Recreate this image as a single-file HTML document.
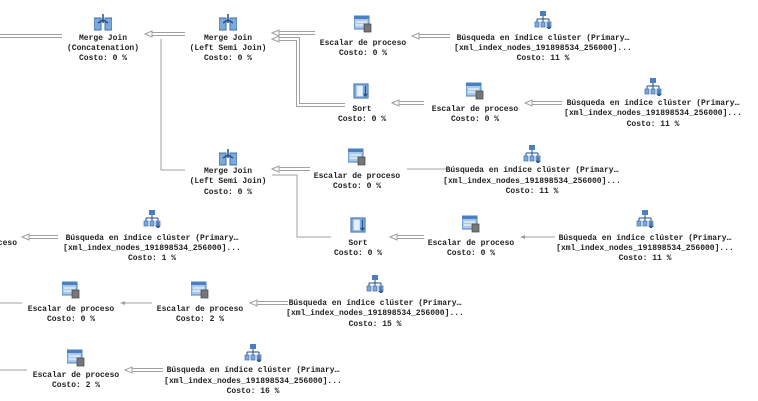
<!DOCTYPE html>
<html><head><meta charset="utf-8"><style>
html,body{margin:0;padding:0;background:#fff;width:758px;height:401px;overflow:hidden}
text{font-family:"Liberation Mono",monospace;font-size:8px;font-weight:bold;fill:#222;text-anchor:middle}
</style></head><body>
<svg width="758" height="401" viewBox="0 0 758 401" xmlns="http://www.w3.org/2000/svg">
<defs>
<symbol id="mj" viewBox="0 0 18 18">
<rect x="0" y="5" width="7" height="12" fill="#7fa9d8" stroke="#3d6fae" stroke-width="1"/>
<rect x="11" y="5" width="7" height="12" fill="#7fa9d8" stroke="#3d6fae" stroke-width="1"/>
<path d="M9 1 V10 M4 10 L9 7 L14 10" stroke="#1f4e8c" stroke-width="1.5" fill="none"/>
</symbol>
<symbol id="sc" viewBox="0 0 18 18">
<rect x="0" y="1" width="15" height="13" fill="#a9c8ea" stroke="#4a7fc1"/>
<rect x="0" y="1" width="15" height="3" fill="#4a7fc1"/>
<line x1="2" y1="7" x2="13" y2="7" stroke="#fff"/><line x1="2" y1="10" x2="13" y2="10" stroke="#fff"/>
<rect x="10" y="9" width="7" height="8" fill="#777" stroke="#444" stroke-width="0.7"/>
</symbol>
<symbol id="srt" viewBox="0 0 18 18">
<rect x="1" y="1" width="16" height="16" fill="#7fa9d8" stroke="#3d6fae"/>
<rect x="4" y="3" width="7" height="12" fill="#e6f0fb"/>
<path d="M14 3 V15 M12 12 L14 15 L16 12" stroke="#1f4e8c" stroke-width="1.2" fill="none"/>
</symbol>
<symbol id="sk" viewBox="0 0 18 18">
<rect x="6" y="0" width="6" height="5" fill="#4a7fc1"/>
<path d="M9 5 V8 M3 8 H15 M3 8 V11 M9 8 V11 M15 8 V11" stroke="#1f4e8c" fill="none"/>
<rect x="1" y="11" width="4" height="5" fill="#7fa9d8" stroke="#3d6fae" stroke-width="0.7"/>
<rect x="7" y="11" width="4" height="5" fill="#7fa9d8" stroke="#3d6fae" stroke-width="0.7"/>
<rect x="13" y="11" width="4" height="5" fill="#7fa9d8" stroke="#3d6fae" stroke-width="0.7"/>
<path d="M15 12 V18 M13 16 L15 18 L17 16" stroke="#1f4e8c" fill="none"/>
</symbol>
</defs>

<g fill="none" stroke-linejoin="miter">
<g stroke="#a0a0a0" stroke-width="4">
<path d="M0 36 H62"/>
<path d="M151 34 H185"/>
<path d="M278 33 H315"/>
<path d="M278 39 H298 V105 H345"/>
<path d="M418 36 H450"/>
<path d="M398 103 H424"/>
<path d="M531 103 H562"/>
<path d="M278 169 H310"/>
<path d="M28 237 H58"/>
<path d="M396 237 H424"/>
<path d="M256 303 H288"/>
<path d="M131 370 H163"/>
</g>
<g stroke="#fff" stroke-width="2">
<path d="M0 36 H62"/>
<path d="M151 34 H185"/>
<path d="M278 33 H315"/>
<path d="M278 39 H298 V105 H345"/>
<path d="M418 36 H450"/>
<path d="M398 103 H424"/>
<path d="M531 103 H562"/>
<path d="M278 169 H310"/>
<path d="M28 237 H58"/>
<path d="M396 237 H424"/>
<path d="M256 303 H288"/>
<path d="M131 370 H163"/>
</g>
<g stroke="#a0a0a0" stroke-width="1">
<path d="M161 39 V170 H185"/>
<path d="M272 175 H297 V237 H331"/>
<path d="M407 169 H447"/>
<path d="M522 237 H555"/>
<path d="M0 303 H22"/>
<path d="M122 303 H152"/>
<path d="M0 370 H27"/>
</g>
<g fill="#fff" stroke="#a0a0a0" stroke-width="1">
<polygon points="145,34 152,31 152,37"/>
<polygon points="272,33 279,30 279,36"/>
<polygon points="272,39 279,36 279,42"/>
<polygon points="412,36 419,33 419,39"/>
<polygon points="392,103 399,100 399,106"/>
<polygon points="525,103 532,100 532,106"/>
<polygon points="272,169 279,166 279,172"/>
<polygon points="22,237 29,234 29,240"/>
<polygon points="390,237 397,234 397,240"/>
<polygon points="250,303 257,300 257,306"/>
<polygon points="125,370 132,367 132,373"/>
</g>
<g fill="#a0a0a0"><polygon points="520,237 525,235 525,239"/><polygon points="120,303 125,301 125,305"/></g>
</g>

<use href="#mj" x="94" y="13" width="18" height="18"/>
<use href="#mj" x="219" y="13" width="18" height="18"/>
<use href="#sc" x="354" y="15" width="18" height="18"/>
<use href="#sk" x="534" y="11" width="18" height="18"/>
<use href="#srt" x="353" y="83" width="16" height="16"/>
<use href="#sc" x="466" y="82" width="18" height="18"/>
<use href="#sk" x="644" y="78" width="18" height="18"/>
<use href="#mj" x="219" y="148" width="18" height="18"/>
<use href="#sc" x="348" y="148" width="18" height="18"/>
<use href="#sk" x="523" y="145" width="18" height="18"/>
<use href="#sk" x="143" y="210" width="18" height="18"/>
<use href="#srt" x="350" y="217" width="16" height="16"/>
<use href="#sc" x="462" y="215" width="18" height="18"/>
<use href="#sk" x="636" y="210" width="18" height="18"/>
<use href="#sc" x="62" y="281" width="18" height="18"/>
<use href="#sc" x="191" y="281" width="18" height="18"/>
<use href="#sk" x="366" y="275" width="18" height="18"/>
<use href="#sc" x="67" y="349" width="18" height="18"/>
<use href="#sk" x="244" y="344" width="18" height="18"/>

<text x="103" y="40">Merge Join</text><text x="103" y="50">(Concatenation)</text><text x="103" y="60">Costo: 0 %</text>
<text x="228" y="40">Merge Join</text><text x="228" y="50">(Left Semi Join)</text><text x="228" y="60">Costo: 0 %</text>
<text x="363" y="45">Escalar de proceso</text><text x="363" y="55">Costo: 0 %</text>
<text x="543" y="40">Búsqueda en índice clúster (Primary…</text><text x="543" y="50">[xml_index_nodes_191898534_256000]...</text><text x="543" y="60">Costo: 11 %</text>

<text x="362" y="111">Sort</text><text x="362" y="121">Costo: 0 %</text>
<text x="475" y="111">Escalar de proceso</text><text x="475" y="121">Costo: 0 %</text>
<text x="653" y="105">Búsqueda en índice clúster (Primary…</text><text x="653" y="115">[xml_index_nodes_191898534_256000]...</text><text x="653" y="126">Costo: 11 %</text>

<text x="228" y="173">Merge Join</text><text x="228" y="183">(Left Semi Join)</text><text x="228" y="194">Costo: 0 %</text>
<text x="357" y="178">Escalar de proceso</text><text x="357" y="188">Costo: 0 %</text>
<text x="532" y="172">Búsqueda en índice clúster (Primary…</text><text x="532" y="183">[xml_index_nodes_191898534_256000]...</text><text x="532" y="193">Costo: 11 %</text>

<text x="17" y="245" style="text-anchor:end">Escalar de proceso</text>
<text x="152" y="240">Búsqueda en índice clúster (Primary…</text><text x="152" y="250">[xml_index_nodes_191898534_256000]...</text><text x="152" y="260">Costo: 1 %</text>
<text x="358" y="245">Sort</text><text x="358" y="255">Costo: 0 %</text>
<text x="471" y="245">Escalar de proceso</text><text x="471" y="255">Costo: 0 %</text>
<text x="645" y="240">Búsqueda en índice clúster (Primary…</text><text x="645" y="250">[xml_index_nodes_191898534_256000]...</text><text x="645" y="260">Costo: 11 %</text>

<text x="71" y="311">Escalar de proceso</text><text x="71" y="321">Costo: 0 %</text>
<text x="200" y="311">Escalar de proceso</text><text x="200" y="321">Costo: 2 %</text>
<text x="375" y="305">Búsqueda en índice clúster (Primary…</text><text x="375" y="315">[xml_index_nodes_191898534_256000]...</text><text x="375" y="326">Costo: 15 %</text>

<text x="76" y="377">Escalar de proceso</text><text x="76" y="387">Costo: 2 %</text>
<text x="253" y="372">Búsqueda en índice clúster (Primary…</text><text x="253" y="383">[xml_index_nodes_191898534_256000]...</text><text x="253" y="393">Costo: 16 %</text>
</svg>
</body></html>
